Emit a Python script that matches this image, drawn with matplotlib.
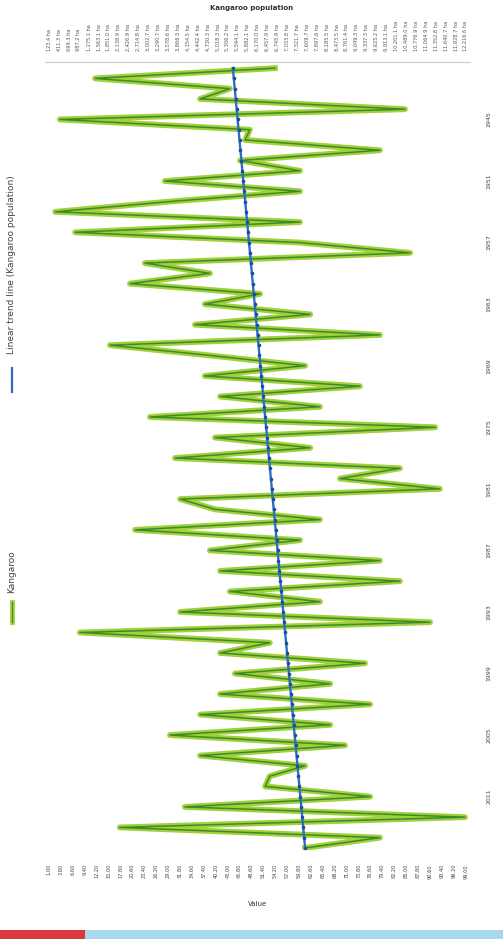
import numpy as np
import matplotlib
matplotlib.use("Agg")
import matplotlib.pyplot as plt
from matplotlib.lines import Line2D
from matplotlib.patches import Rectangle

# ---- data ----
years = list(range(1940, 2017))
values = [54.1, 11.8, 43.5, 36.5, 84.7, 3.5, 48.2, 47.1, 78.8, 45.9,
          60.0, 28.2, 60.0, 29.4, 2.4, 60.0, 7.1, 60.0, 85.9, 23.5,
          38.8, 20.0, 50.6, 37.6, 62.4, 35.3, 78.8, 15.3, 38.8, 61.2,
          37.6, 74.1, 41.2, 64.7, 24.7, 91.8, 40.0, 62.4, 30.6, 83.5,
          69.4, 92.9, 31.8, 40.0, 64.7, 21.2, 60.0, 38.8, 78.8, 41.2,
          83.5, 43.5, 64.7, 31.8, 90.6, 8.2, 52.9, 41.2, 75.3, 44.7,
          67.1, 41.2, 76.5, 36.5, 67.1, 29.4, 70.6, 36.5, 61.2, 52.9,
          51.8, 76.5, 32.9, 98.8, 17.6, 78.8, 61.2]
trend_start, trend_end = 44.2, 61.2
year_ticks = [1945, 1951, 1957, 1963, 1969, 1975, 1981, 1987, 1993, 1999, 2005, 2011]
title = "Kangaroo population"
series_name = "Kangaroo"
trend_name = "Linear trend line (Kangaroo population)"
xlabel = "Value"

fig = plt.figure(figsize=(5.03, 9.39), dpi=100)
W, H = 503, 939
ax = fig.add_axes([45 / W, 1 - 850 / H, 425 / W, 788 / H])

ax.plot(values, years, color="#a2cf3a", lw=4.2, solid_joinstyle="round", zorder=2)
ax.plot(values, years, color="#3a8c2a", lw=1.1, zorder=3)
trend = np.linspace(trend_start, trend_end, len(years))
ax.plot(trend, years, color="#2b6cc4", lw=1.7, marker="o", ms=1.6,
        mfc="#1d4f94", mec="#1d4f94", zorder=4)

ax.set_xlim(0, 100)
ax.set_ylim(years[-1] + 0.2, years[0] - 0.6)

for s in ["left", "right", "bottom"]:
    ax.spines[s].set_visible(False)
ax.spines["top"].set_color("#cccccc")
ax.spines["top"].set_linewidth(0.8)

ax.yaxis.tick_right()
ax.set_yticks(year_ticks)
ax.set_yticklabels([str(y) for y in year_ticks], rotation=90, va="center",
                   fontsize=4.5, color="#444444")
ax.tick_params(axis="y", length=0, pad=12)

xt = np.linspace(1, 99, 36)
ax.set_xticks(xt)
ax.set_xticklabels([f"{v:.2f}" for v in xt], rotation=90, fontsize=3.6, color="#444444")
ax.tick_params(axis="x", length=0, pad=10)
ax.set_xlabel(xlabel, fontsize=5, color="#333333", labelpad=16)

sec = ax.secondary_xaxis("top")
st = np.linspace(1, 99, 43)
sec.set_xticks(st)
sec.set_xticklabels([f"{v * 123.4:,.1f} ha" for v in st], rotation=90, fontsize=3.6, color="#555555")
sec.tick_params(length=0, pad=8)
for s in sec.spines.values():
    s.set_visible(False)

fig.text(0.5, 1 - 8 / H, title, ha="center", va="center", fontsize=5, fontweight="bold", color="#333333")

# legend (rotated)
fig.add_artist(Line2D([12 / W, 12 / W], [1 - 622 / H, 1 - 602 / H], color="#a2cf3a", lw=3.5))
fig.add_artist(Line2D([12 / W, 12 / W], [1 - 622 / H, 1 - 602 / H], color="#3a8c2a", lw=0.8))
fig.text(12 / W, 1 - 572 / H, series_name, rotation=90, ha="center", va="center", fontsize=6.5, color="#444444")
fig.add_artist(Line2D([12 / W, 12 / W], [1 - 392 / H, 1 - 368 / H], color="#2b6cc4", lw=1.6))
fig.text(12 / W, 1 - 265 / H, trend_name, rotation=90, ha="center", va="center", fontsize=6.5, color="#444444")

# bottom strip
fig.add_artist(Rectangle((0, 0), 85 / W, 9 / H, transform=fig.transFigure, color="#d93a3f", lw=0))
fig.add_artist(Rectangle((85 / W, 0), 1 - 85 / W, 9 / H, transform=fig.transFigure, color="#a8d8ee", lw=0))

fig.savefig("out.png", dpi=100)
